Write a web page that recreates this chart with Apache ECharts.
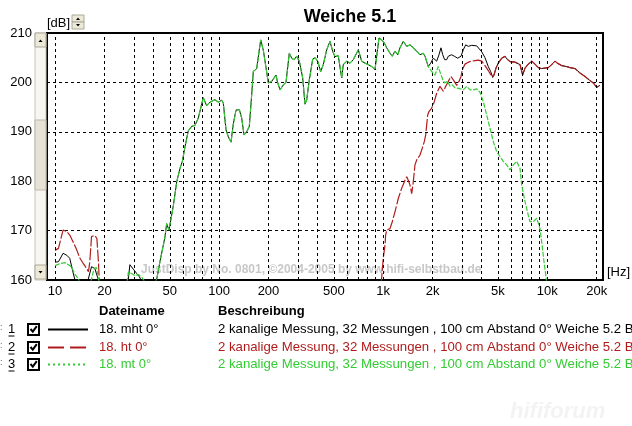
<!DOCTYPE html>
<html><head><meta charset="utf-8">
<script src="https://cdn.jsdelivr.net/npm/echarts@6/dist/echarts.min.js"></script>
<style>html,body{margin:0;padding:0;background:#fff}#c{width:632px;height:426px}</style>
</head><body><div id="c"></div>
<script>
// ---- data (frequency in Hz, level in dB) ----
const mhtFreq = [10,10.5,11.2,11.8,12.3,13.0,13.6,15.2,15.9,16.7,17.5,18.4,19.2,26.5,28.0,28.6,30.0,31.5,32.6,34.5,38.5,
  41.7,43.6,46.8,47.9,49.5,50.9,52.6,55.2,57.8,59.7,62.0,64.9,68.1,71.3,74.7,80.1,84.0,88.0,94.4,98.9,103.7,106.1,110.2,113.8,118.2,122.1,126.8,132.8,137.3,141.8,147.3,152.8,158.0,161.6,169.5,179.3,186.0,193.1,199.5,209.2,222.2,226.3,235.0,246.2,255.7,267.8,277.0,286.1,297.2,308.2,323.2,333.8,341.9,354.6,371.9,384.1,398.9,415.9,431.5,452.6,474.1,492.4,508.5,532.6,558.6,571.3,599.2,627.6,657.4,705.3,739.6,774.7,811.4,851.0,891.3,912.9,942.8,979.3,1016,1050,1100,1136,1180,1226,1266,1326,1391,1457,1526,1600,1676,1755,1798,1883,
  1947,2020,2118,2188,2250,2305,2370,2438,2493,2615,2712,2844,2980,3077,3183,3301,3462,3713,3985,4173,4370,4519,4648,4734,4868,5028,5275,5524,5658,5925,6356,6818,7080,7313,7660,8034,8414,8811,9245,9683,10141,10637,11140,11508,12241,13131,13750,14754,15826,16972,18029,19068,20000,20950];
const mhtDb = [163.6,163.7,165.4,165.0,164.4,161.0,158.5,157.0,160.0,162.7,162.3,160.0,157.0,156.5,160.2,163.1,162.2,161.3,160.7,159.2,157.5,
  160.2,163.7,168.7,171.4,170.1,170.4,175.0,179.9,182.6,184.0,187.0,190.2,191.1,191.3,192.8,196.9,195.3,196.0,196.5,196.0,196.4,195.8,190.4,189.0,187.9,191.6,194.4,194.5,192.8,189.4,190.0,191.1,197.5,202.2,202.8,208.6,206.5,203.0,199.9,200.2,201.5,200.2,198.5,199.5,200.0,205.9,204.9,204.6,205.3,204.3,200.9,195.6,196.5,200.5,204.7,205.0,204.3,202.2,203.6,206.6,208.3,206.3,205.2,205.4,200.9,203.6,204.3,203.9,204.6,206.6,204.3,203.9,203.6,203.2,202.6,205.3,209.0,208.6,208.0,207.0,205.9,205.3,206.3,205.6,207.0,208.3,207.3,207.6,207.0,206.3,205.6,205.9,205.3,203.2,
  203.9,204.9,204.3,205.6,207.0,205.6,204.6,204.6,205.3,205.6,205.3,204.9,205.3,206.6,207.6,207.3,207.5,207.4,206.2,205.0,203.2,202.2,201.0,201.5,202.9,203.9,204.9,205.3,204.8,204.2,204.1,203.6,201.5,202.9,203.7,204.3,203.7,203.0,202.8,202.9,203.0,203.6,204.3,203.9,203.4,203.2,203.0,202.8,201.9,201.2,200.5,199.9,199.0,199.4];

const htFreq = [10,10.5,11.2,11.8,12.3,12.9,13.6,14.2,14.9,15.6,16.0,16.3,16.7,17.5,18.0,18.4,18.6,19.2,100,955,
  1001,1026,1035,1050,1100,1136,1180,1236,1297,1358,1391,1422,1457,1492,1526,1547,1562,1600,1676,1731,1780,1816,1841,1867,1901,1975,2048,2118,2167,2219,2273,2324,2404,2493,2589,2637,2712,2805,2897,2980,3034,3152,3301,3462,3626,3797,3985,4173,4370,4583,4648,
  4734,4868,5028,5275,5524,5658,5925,6356,6818,7080,7313,7660,8034,8414,8811,9245,9683,10141,10637,11140,11508,12241,13131,13750,14754,15826,16972,18029,19068,20000,20950];
const htDb = [166.0,166.4,170.1,169.8,169.1,167.7,166.0,164.4,163.3,162.3,161.7,163.7,168.8,169.0,168.4,163.7,160.2,156.0,150.0,156.0,
  164.4,167.1,169.1,170.1,170.4,171.8,173.8,176.5,178.6,180.2,180.9,180.2,179.2,177.5,179.9,181.9,183.3,184.3,185.3,186.7,188.0,189.4,191.4,193.4,194.1,194.8,196.1,197.8,198.5,199.2,199.0,198.2,199.2,200.2,201.2,201.0,200.2,199.4,200.2,201.2,202.6,203.7,204.1,204.3,204.4,204.5,204.3,203.4,202.4,201.2,201.0,
  201.5,202.9,203.9,204.9,205.3,204.8,204.2,204.1,203.6,201.5,202.9,203.7,204.3,203.7,203.0,202.8,202.9,203.0,203.6,204.3,203.9,203.4,203.2,203.0,202.8,201.9,201.2,200.5,199.9,199.0,199.4];

const mtFreq = [10,10.7,11.5,12.6,13.2,13.9,14.6,16.0,16.7,17.3,17.9,18.4,19.2,27.0,28.0,29.3,30.7,32.2,33.8,35.4,37.5,40.0,
  41.7,43.6,46.8,47.9,49.5,50.9,52.6,55.2,57.8,59.7,62.0,64.9,68.1,71.3,74.7,80.1,84.0,88.0,94.4,98.9,103.7,106.1,110.2,113.8,118.2,122.1,126.8,132.8,137.3,141.8,147.3,152.8,158.0,161.6,169.5,179.3,186.0,193.1,199.5,209.2,222.2,226.3,235.0,246.2,255.7,267.8,277.0,286.1,297.2,308.2,323.2,333.8,341.9,354.6,371.9,384.1,398.9,415.9,431.5,452.6,474.1,492.4,508.5,532.6,558.6,571.3,599.2,627.6,657.4,705.3,739.6,774.7,811.4,851.0,891.3,912.9,942.8,979.3,1016,1050,1100,1136,1180,1226,1266,1326,1391,1457,1526,1600,1676,1755,1798,1883,
  1975,2068,2167,2250,2357,2472,2553,2637,2738,2897,3077,3228,3381,3540,3713,3889,4074,4273,4476,4689,4915,5148,5393,5658,5925,6206,6507,6656,6818,6982,7313,7660,7846,8218,8618,8811,9027,9245,9548,9820,10100];
const mtDb = [162.9,163.3,163.5,162.7,161.2,160.2,158.0,158.0,160.2,162.3,162.5,160.2,157.0,157.5,161.6,161.3,160.9,161.1,160.6,159.5,158.5,159.0,
  160.2,163.7,168.7,171.4,170.1,170.4,175.0,179.9,182.6,184.0,187.0,190.2,191.1,191.3,192.8,196.9,195.3,196.0,196.5,196.0,196.4,195.8,190.4,189.0,187.9,191.6,194.4,194.5,192.8,189.4,190.0,191.1,197.5,202.2,202.8,208.6,206.5,203.0,199.9,200.2,201.5,200.2,198.5,199.5,200.0,205.9,204.9,204.6,205.3,204.3,200.9,195.6,196.5,200.5,204.7,205.0,204.3,202.2,203.6,206.6,208.3,206.3,205.2,205.4,200.9,203.6,204.3,203.9,204.6,206.6,204.3,203.9,203.6,203.2,202.6,205.3,209.0,208.6,208.0,207.0,205.9,205.3,206.3,205.6,207.0,208.3,207.3,207.6,207.0,206.3,205.6,205.9,205.3,203.2,
  202.2,201.5,203.2,201.5,199.9,200.2,199.2,199.5,198.9,198.8,198.5,199.2,198.5,198.5,198.7,198.0,196.1,193.4,190.7,188.0,186.0,185.0,184.0,183.3,182.3,183.3,184.0,184.3,182.6,179.2,175.9,173.1,171.8,171.8,172.5,172.1,170.4,167.7,163.7,160.6,157.0];

const xRangeHz = [8.94, 21850];
const xTickHz = [10,20,50,100,200,500,1000,2000,5000,10000,20000];
const xTickLabels = ['10','20','50','100','200','500','1k','2k','5k','10k','20k'];
const xGridHz = [10,20,30,40,50,60,70,80,90,100,200,300,400,500,600,700,800,900,1000,2000,3000,4000,5000,6000,7000,8000,9000,10000,20000];
const yMin = 160, yMax = 210, yStep = 10;

const seriesNames = ['18. mht 0°','18. ht 0°','18. mt 0°'];
const seriesDesc = '2 kanalige Messung, 32 Messungen , 100 cm Abstand 0° Weiche 5.2 B';
const colors = ['#000000','#b01c1c','#33cc33'];
const FONT = "'Liberation Sans', Arial, sans-serif";

const lg = Math.log10;
const pairs = (f, d) => f.map((v, i) => [lg(v), d[i]]);

// ---- legend table graphics ----
const g = [];
const rowsY = [329, 347, 364];
g.push({type:'text', x:99, y:311, style:{text:'Dateiname', font:'bold 13px '+FONT, fill:'#000', verticalAlign:'middle'}});
g.push({type:'text', x:218, y:311, style:{text:'Beschreibung', font:'bold 13px '+FONT, fill:'#000', verticalAlign:'middle'}});
const dashes = [null, [16,6], [2,3]];
rowsY.forEach((ry, i) => {
  g.push({type:'text', x:0, y:ry-1, style:{text:':', font:'9px '+FONT, fill:'#666', verticalAlign:'middle'}});
  g.push({type:'text', x:11.5, y:ry, style:{text:String(i+1), font:'13px '+FONT, fill:'#000', align:'center', verticalAlign:'middle'}});
  g.push({type:'line', shape:{x1:8.5, y1:ry+7, x2:14.5, y2:ry+7}, style:{stroke:'#000', lineWidth:1}});
  g.push({type:'rect', shape:{x:28, y:ry-5, width:11, height:11}, style:{fill:'#fff', stroke:'#000', lineWidth:2}});
  g.push({type:'polyline', shape:{points:[[30.5,ry],[32.8,ry+2.7],[36.8,ry-2.8]]}, style:{stroke:'#000', lineWidth:2, fill:null}});
  g.push({type:'line', shape:{x1:48, y1:ry+0.5, x2:88, y2:ry+0.5}, style:{stroke:colors[i], lineWidth:2, lineDash:dashes[i]}});
  g.push({type:'text', x:99, y:ry, style:{text:seriesNames[i], font:'13px '+FONT, fill:colors[i], verticalAlign:'middle'}});
  g.push({type:'text', x:218, y:ry, style:{text:seriesDesc, font:'13.2px '+FONT, fill:colors[i], verticalAlign:'middle'}});
});
// scrollbar left of plot
g.push({type:'rect', shape:{x:35, y:33, width:11, height:247}, style:{fill:'#f7f6f1', stroke:'#c9c6b8', lineWidth:1}});
g.push({type:'rect', shape:{x:35, y:120, width:11, height:70}, style:{fill:'#e6e3d6', stroke:'#bdb9a8', lineWidth:1}});
g.push({type:'rect', shape:{x:35, y:33, width:11, height:14}, style:{fill:'#ece9d8', stroke:'#aca899', lineWidth:1}});
g.push({type:'rect', shape:{x:35, y:265, width:11, height:14}, style:{fill:'#ece9d8', stroke:'#aca899', lineWidth:1}});
g.push({type:'polygon', shape:{points:[[38.5,42],[42.5,42],[40.5,39.5]]}, style:{fill:'#000'}});
g.push({type:'polygon', shape:{points:[[38.5,271],[42.5,271],[40.5,273.5]]}, style:{fill:'#000'}});
// [dB] label and spinner
g.push({type:'text', x:47, y:23, style:{text:'[dB]', font:'13px '+FONT, fill:'#000', verticalAlign:'middle'}});
g.push({type:'rect', shape:{x:72, y:15, width:12, height:7}, style:{fill:'#ece9d8', stroke:'#aca899', lineWidth:1}});
g.push({type:'rect', shape:{x:72, y:22, width:12, height:7}, style:{fill:'#ece9d8', stroke:'#aca899', lineWidth:1}});
g.push({type:'polygon', shape:{points:[[76,20],[80,20],[78,17.5]]}, style:{fill:'#000'}});
g.push({type:'polygon', shape:{points:[[76,24],[80,24],[78,26.5]]}, style:{fill:'#000'}});
// [Hz]
g.push({type:'text', x:607, y:272, style:{text:'[Hz]', font:'13px '+FONT, fill:'#000', verticalAlign:'middle'}});
// watermark in plot
g.push({type:'text', z:1, x:141, y:270, style:{text:'JustDisp by No. 0801, ©2004-2005 by www.hifi-selbstbau.de', font:'bold 12px '+FONT, fill:'#c8c8c8', verticalAlign:'middle'}});
g.push({type:'text', x:510, y:412, style:{text:'hififorum', font:'bold italic 22px '+FONT, fill:'#f3f3f3', verticalAlign:'middle'}});

const chart = echarts.init(document.getElementById('c'), null, {renderer:'canvas'});
chart.setOption({
  animation: false,
  backgroundColor: '#ffffff',
  title: {text:'Weiche 5.1', left:350, top:8, textAlign:'center', padding:0,
    textStyle:{fontSize:18, fontWeight:'bold', color:'#000', fontFamily:FONT}},
  grid: {left:47, right:29, top:33, bottom:146, show:true, borderColor:'#000', borderWidth:2, backgroundColor:'#fff'},
  xAxis: {type:'value', min:lg(xRangeHz[0]), max:lg(xRangeHz[1]),
    axisLine:{show:false}, axisTick:{show:false}, splitLine:{show:false},
    axisLabel:{customValues: xTickHz.map(lg), fontSize:13, color:'#000', fontFamily:FONT, margin:5,
      formatter: v => { const i = xTickHz.findIndex(h => Math.abs(lg(h) - v) < 1e-6); return i >= 0 ? xTickLabels[i] : ''; }}},
  yAxis: {type:'value', min:yMin, max:yMax, interval:yStep,
    axisLine:{show:false}, axisTick:{show:false},
    axisLabel:{fontSize:13, color:'#000', fontFamily:FONT, margin:15},
    splitLine:{show:true, lineStyle:{color:'#000', type:[3,3], width:1}}},
  graphic: g,
  series: [
    {type:'line', name:'grid', z:1, data:[], silent:true,
      markLine:{silent:true, symbol:['none','none'], label:{show:false},
        lineStyle:{color:'#000', type:[3,3], width:1},
        data: xGridHz.map(h => ({xAxis: lg(h)}))}},
    {type:'line', name:seriesNames[0], z:3, data:pairs(mhtFreq, mhtDb), showSymbol:false, symbol:'none',
      lineStyle:{color:colors[0], width:1}},
    {type:'line', name:seriesNames[1], z:4, data:pairs(htFreq, htDb), showSymbol:false, symbol:'none',
      lineStyle:{color:colors[1], width:1.2, type:[12,2]}},
    {type:'line', name:seriesNames[2], z:5, data:pairs(mtFreq, mtDb), showSymbol:false, symbol:'none',
      lineStyle:{color:colors[2], width:1.2, type:[5,1.5]}}
  ]
});
</script></body></html>
